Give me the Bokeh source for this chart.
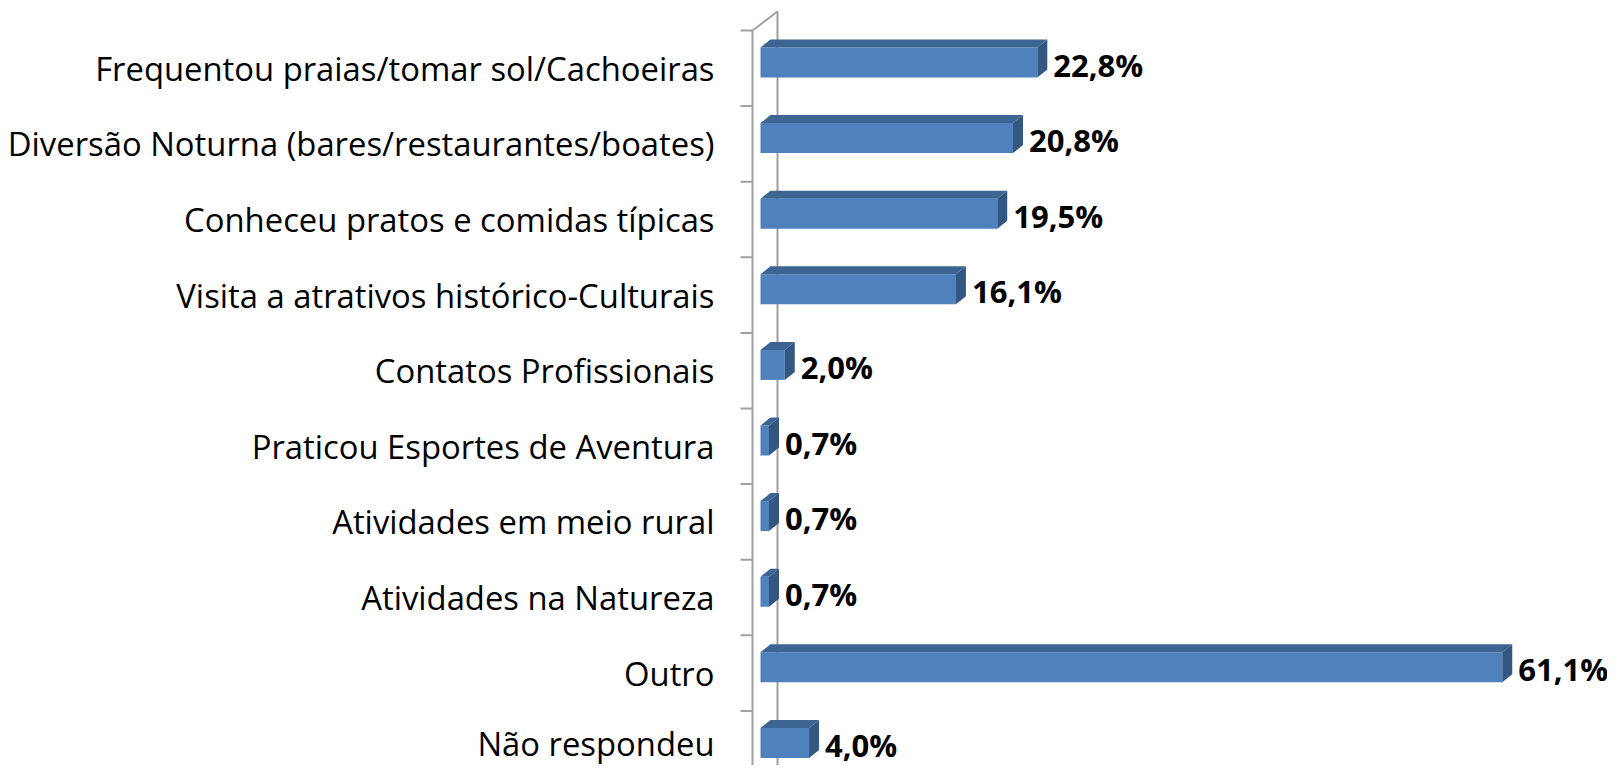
from bokeh.plotting import figure
from bokeh.models import Range1d, FixedTicker, ColumnDataSource
from bokeh.core.properties import value
from bokeh.embed import file_html
from bokeh.resources import INLINE

categories = [
    "Frequentou praias/tomar sol/Cachoeiras",
    "Diversão Noturna (bares/restaurantes/boates)",
    "Conheceu pratos e comidas típicas",
    "Visita a atrativos histórico-Culturais",
    "Contatos Profissionais",
    "Praticou Esportes de Aventura",
    "Atividades em meio rural",
    "Atividades na Natureza",
    "Outro",
    "Não respondeu",
]
values = [22.8, 20.8, 19.5, 16.1, 2.0, 0.7, 0.7, 0.7, 61.1, 4.0]
value_labels = ["22,8%", "20,8%", "19,5%", "16,1%", "2,0%", "0,7%", "0,7%", "0,7%", "61,1%", "4,0%"]

# geometry (pixels per unit)
PX_X = 12.14      # px per percent
PX_Y = 75.6       # px per row
N = len(categories)
W, H = 1607, 765
LEFT = 720        # frame left edge (canvas px)
ZERO = 760        # canvas x of value 0
TOP0 = 30         # canvas y of upper row boundary

FRONT = "#4F81BD"
TOP = "#3D6594"
SIDE = "#345782"
WALL = "#A0A0A0"
FONT = "Open Sans"

x_start = (LEFT - ZERO) / PX_X
x_end = (W - ZERO) / PX_X
y_end = N + TOP0 / PX_Y
y_start = N - (H - TOP0) / PX_Y

p = figure(width=W, height=H, output_backend="svg", toolbar_location=None,
           x_range=Range1d(x_start, x_end), y_range=Range1d(y_start, y_end),
           x_axis_location=None, min_border_left=LEFT, min_border_right=0,
           min_border_top=0, min_border_bottom=0)
p.outline_line_color = None
p.xgrid.visible = False
p.ygrid.visible = False
p.background_fill_color = "white"
p.border_fill_color = "white"

# category axis
centers = [N - i - 0.5 for i in range(N)]
ax = p.yaxis[0]
ax.ticker = FixedTicker(ticks=centers)
ax.major_label_overrides = {c: lab for c, lab in zip(centers, categories)}
ax.axis_line_color = None
ax.major_tick_line_color = None
ax.minor_tick_line_color = None
ax.major_tick_out = 0
ax.major_label_standoff = 6
ax.major_label_text_font = FONT
ax.major_label_text_font_size = "32.8px"
ax.major_label_text_color = "black"

# 3D walls
fx = -8 / PX_X
bx = 17 / PX_X
dwy = 19 / PX_Y
p.segment(x0=[fx, bx, fx, fx], y0=[0, dwy, N, 0], x1=[fx, bx, bx, bx], y1=[N, N + dwy, N + dwy, dwy],
          line_color=WALL, line_width=2)
tick_y = list(range(N + 1))
p.segment(x0=[-20 / PX_X] * len(tick_y), y0=tick_y, x1=[fx] * len(tick_y), y1=tick_y,
          line_color=WALL, line_width=2)

# bars
dx = 10 / PX_X
dy = 8 / PX_Y
tops = [N - i - 17 / PX_Y for i in range(N)]
bots = [N - i - 47 / PX_Y for i in range(N)]

p.quad(left=0, right=values, top=tops, bottom=bots, fill_color=FRONT, line_color=None)
top_xs = [[0, v, v + dx, dx] for v in values]
top_ys = [[t, t, t + dy, t + dy] for t in tops]
p.patches(top_xs, top_ys, fill_color=TOP, line_color=None)
side_xs = [[v, v + dx, v + dx, v] for v in values]
side_ys = [[t, t + dy, b + dy, b] for t, b in zip(tops, bots)]
p.patches(side_xs, side_ys, fill_color=SIDE, line_color=None)

src = ColumnDataSource(dict(x=values, y=[(t + b) / 2 for t, b in zip(tops, bots)], text=value_labels))
p.text(x="x", y="y", text="text", source=src, x_offset=16, y_offset=2,
       text_font=value(FONT), text_font_style="bold", text_font_size="31px",
       text_align="left", text_baseline="middle", text_color="black")

open("out.html", "w").write(file_html(p, INLINE))
